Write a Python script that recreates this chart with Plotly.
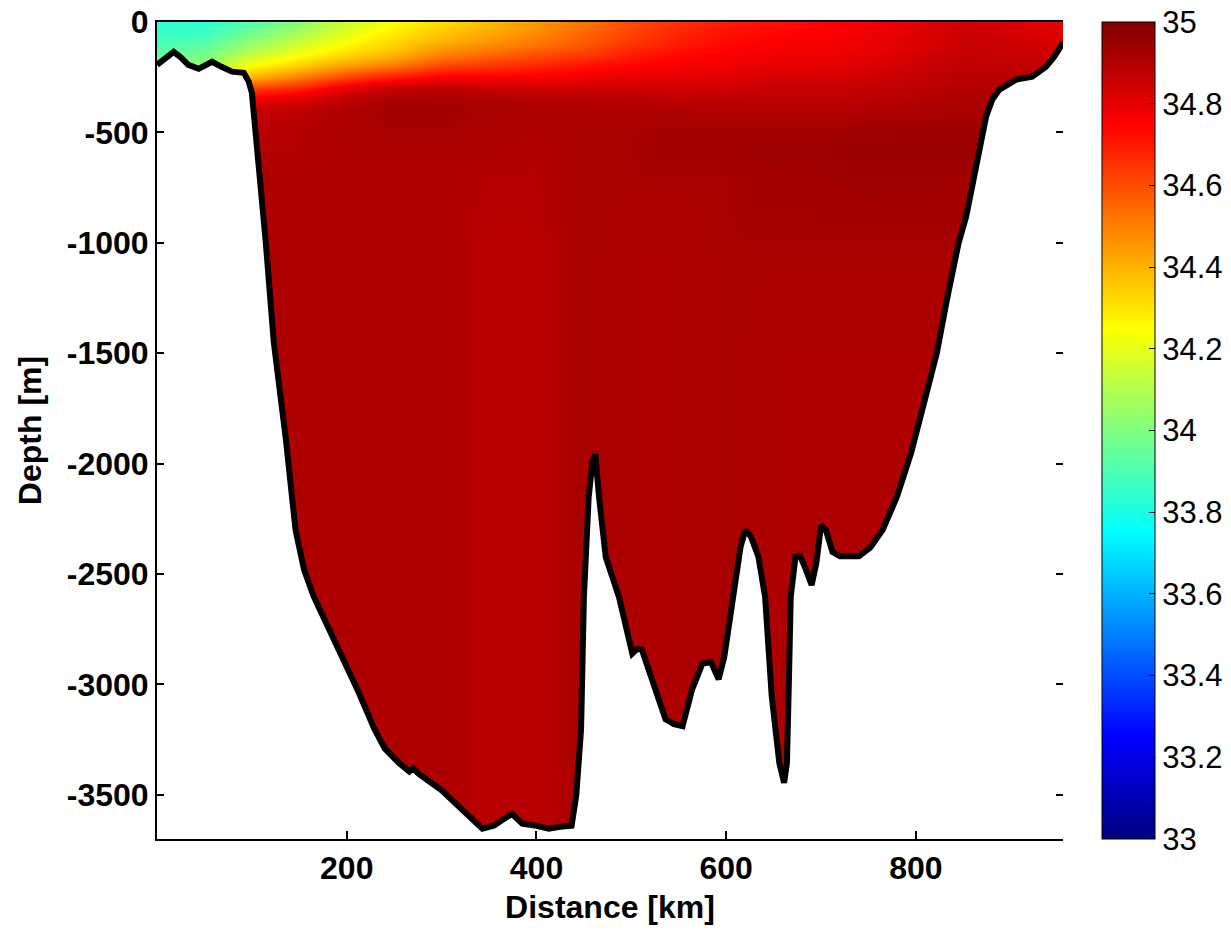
import plotly.graph_objects as go
import numpy as np

# ---------------- data ----------------
DIST_KM = [0, 50, 100, 150, 200, 250, 300, 350, 400, 450, 500, 550, 600, 650, 700, 750, 800, 850, 900, 955]
DEPTH_M = [0, -50, -100, -150, -200, -250, -300, -350, -400, -500, -600, -700, -1000, -1500, -2500, -3700]

SAL_0    = [33.83, 33.84, 33.92, 34.02, 34.15, 34.25, 34.32, 34.38, 34.45, 34.52, 34.60, 34.66, 34.70, 34.72, 34.74, 34.77, 34.80, 34.84, 34.82, 34.79]
SAL_50   = [33.86, 33.87, 33.97, 34.08, 34.20, 34.29, 34.36, 34.42, 34.48, 34.55, 34.62, 34.68, 34.72, 34.74, 34.76, 34.78, 34.81, 34.85, 34.84, 34.81]
SAL_100  = [33.90, 33.92, 34.05, 34.16, 34.26, 34.34, 34.42, 34.47, 34.52, 34.58, 34.65, 34.70, 34.74, 34.76, 34.77, 34.79, 34.82, 34.86, 34.85, 34.83]
SAL_150  = [33.95, 33.98, 34.14, 34.24, 34.33, 34.40, 34.50, 34.55, 34.60, 34.64, 34.70, 34.74, 34.76, 34.78, 34.78, 34.80, 34.83, 34.87, 34.86, 34.85]
SAL_200  = [34.00, 34.05, 34.26, 34.35, 34.45, 34.52, 34.62, 34.65, 34.68, 34.72, 34.75, 34.77, 34.78, 34.80, 34.80, 34.82, 34.85, 34.88, 34.87, 34.87]
SAL_250  = [34.05, 34.15, 34.40, 34.50, 34.62, 34.70, 34.76, 34.76, 34.76, 34.78, 34.80, 34.80, 34.81, 34.83, 34.83, 34.85, 34.87, 34.89, 34.89, 34.89]
SAL_300  = [34.15, 34.30, 34.62, 34.68, 34.80, 34.86, 34.88, 34.86, 34.84, 34.85, 34.85, 34.84, 34.85, 34.86, 34.86, 34.87, 34.88, 34.90, 34.90, 34.90]
SAL_350  = [34.30, 34.50, 34.78, 34.82, 34.88, 34.92, 34.92, 34.91, 34.90, 34.90, 34.89, 34.88, 34.88, 34.88, 34.88, 34.89, 34.90, 34.91, 34.91, 34.91]
SAL_400  = [34.60, 34.80, 34.86, 34.88, 34.91, 34.93, 34.93, 34.92, 34.91, 34.91, 34.91, 34.91, 34.90, 34.90, 34.90, 34.90, 34.91, 34.92, 34.92, 34.91]
SAL_500  = [34.88, 34.88, 34.89, 34.90, 34.91, 34.92, 34.92, 34.91, 34.91, 34.92, 34.92, 34.93, 34.93, 34.93, 34.93, 34.94, 34.94, 34.94, 34.93, 34.92]
SAL_600  = [34.90, 34.90, 34.90, 34.90, 34.91, 34.91, 34.91, 34.91, 34.90, 34.92, 34.92, 34.93, 34.93, 34.94, 34.94, 34.95, 34.95, 34.95, 34.93, 34.92]
SAL_700  = [34.91, 34.91, 34.91, 34.91, 34.91, 34.91, 34.91, 34.90, 34.90, 34.92, 34.92, 34.92, 34.92, 34.93, 34.93, 34.94, 34.94, 34.93, 34.92, 34.92]
SAL_1000 = [34.91, 34.91, 34.91, 34.91, 34.91, 34.91, 34.91, 34.89, 34.89, 34.92, 34.91, 34.91, 34.92, 34.92, 34.92, 34.92, 34.92, 34.92, 34.92, 34.92]
SAL_1500 = [34.91, 34.91, 34.91, 34.91, 34.91, 34.91, 34.91, 34.89, 34.89, 34.92, 34.91, 34.91, 34.92, 34.91, 34.91, 34.91, 34.91, 34.91, 34.91, 34.91]
SAL_2500 = [34.91, 34.91, 34.91, 34.91, 34.91, 34.91, 34.91, 34.89, 34.89, 34.92, 34.91, 34.91, 34.92, 34.91, 34.91, 34.91, 34.91, 34.91, 34.91, 34.91]
SAL_3700 = [34.91, 34.91, 34.91, 34.91, 34.91, 34.91, 34.91, 34.89, 34.89, 34.92, 34.91, 34.91, 34.92, 34.91, 34.91, 34.91, 34.91, 34.91, 34.91, 34.91]

BATHY_KM = [0, 8, 17.6, 25, 33, 44, 52, 58, 68, 79, 91.5, 96.7, 100, 103, 107, 114.6, 123, 136, 146, 155,
            165, 176, 197, 213, 229, 240, 255, 266, 270, 276, 300, 320, 343, 355, 365, 374, 380, 385,
            400, 413, 425, 437, 442, 447, 450, 455, 459, 462, 466, 473, 487, 501, 506, 511, 518, 526,
            536, 545, 554, 564, 575, 584, 592, 598, 606, 615, 620, 626, 634, 641, 648, 656, 661, 664,
            666, 668, 673, 678, 684, 690, 695, 700, 705, 712, 720, 740, 752, 765, 780, 795, 810, 822,
            833, 845, 853, 859, 866.7, 874, 880.5, 888, 905.7, 922.6, 937, 945.6, 955]
BATHY_DEPTH = [-194, -165, -135, -160, -194, -212, -195, -180, -203, -225, -230, -270, -320, -450, -667, -995,
               -1446, -1896, -2300, -2480, -2600, -2700, -2880, -3040, -3200, -3290, -3356, -3395, -3380,
               -3405, -3480, -3560, -3653, -3640, -3610, -3586, -3610, -3631, -3640, -3653, -3645, -3640,
               -3500, -3203, -2604, -2153, -1990, -1959, -2153, -2423, -2604, -2860, -2840, -2842, -2930,
               -3023, -3158, -3180, -3189, -3023, -2905, -2900, -2977, -2874, -2635, -2380, -2302, -2330,
               -2423, -2604, -3054, -3356, -3446, -3356, -3000, -2604, -2423, -2420, -2480, -2550, -2450,
               -2280, -2300, -2400, -2420, -2420, -2380, -2300, -2150, -1950, -1700, -1500, -1250, -1000,
               -880, -757, -577, -428, -351, -306, -261, -248, -203, -158, -95]

X_TICKS = [200, 400, 600, 800]
X_LABELS = ["200", "400", "600", "800"]
Y_TICKS = [0, -500, -1000, -1500, -2000, -2500, -3000, -3500]
Y_LABELS = ["0", "-500", "-1000", "-1500", "-2000", "-2500", "-3000", "-3500"]
CB_TICKS = [33, 33.2, 33.4, 33.6, 33.8, 34, 34.2, 34.4, 34.6, 34.8, 35]
CB_LABELS = ["33", "33.2", "33.4", "33.6", "33.8", "34", "34.2", "34.4", "34.6", "34.8", "35"]

X_RANGE = [0, 955]
Y_RANGE = [-3700, 0]
Z_RANGE = [33, 35]

# ---------------- figure ----------------
SAL = np.array([SAL_0, SAL_50, SAL_100, SAL_150, SAL_200, SAL_250, SAL_300, SAL_350, SAL_400,
                SAL_500, SAL_600, SAL_700, SAL_1000, SAL_1500, SAL_2500, SAL_3700])
depth_arr = np.array(DEPTH_M)[::-1]
sal_arr = SAL[::-1, :]

JET = [[0.0, "rgb(0,0,128)"], [0.125, "rgb(0,0,255)"], [0.375, "rgb(0,255,255)"],
       [0.625, "rgb(255,255,0)"], [0.875, "rgb(255,0,0)"], [1.0, "rgb(128,0,0)"]]

FONT = "Liberation Sans, Arial, Helvetica, sans-serif"

fig = go.Figure()
fig.add_trace(go.Heatmap(
    x=DIST_KM, y=depth_arr, z=sal_arr, zmin=Z_RANGE[0], zmax=Z_RANGE[1],
    colorscale=JET, zsmooth="best", hoverinfo="skip",
    colorbar=dict(
        x=1.043, xanchor="left", y=0.5, yanchor="middle", len=1.0, lenmode="fraction",
        thickness=53, thicknessmode="pixels", xpad=0, ypad=0,
        outlinewidth=1, outlinecolor="black",
        tickmode="array", tickvals=CB_TICKS, ticktext=CB_LABELS,
        ticks="inside", ticklen=6, tickwidth=1, tickcolor="black",
        tickfont=dict(family=FONT, size=31, color="black"),
    ),
))

# white sea-floor fill below bathymetry
fig.add_trace(go.Scatter(
    x=BATHY_KM + [BATHY_KM[-1], BATHY_KM[0]],
    y=BATHY_DEPTH + [Y_RANGE[0] - 100, Y_RANGE[0] - 100],
    mode="lines", fill="toself", fillcolor="white", line=dict(width=0, color="white"),
    hoverinfo="skip", showlegend=False,
))
# bathymetry line
fig.add_trace(go.Scatter(
    x=BATHY_KM, y=BATHY_DEPTH, mode="lines",
    line=dict(color="black", width=6), hoverinfo="skip", showlegend=False,
))
# invisible trace so the mirrored right-hand tick axis is drawn
fig.add_trace(go.Scatter(
    x=[BATHY_KM[0]], y=[BATHY_DEPTH[0]], yaxis="y2", mode="markers",
    marker=dict(opacity=0), hoverinfo="skip", showlegend=False,
))

fig.update_layout(
    width=1231, height=934,
    margin=dict(l=157, r=168, t=22, b=95, pad=0, autoexpand=False),
    paper_bgcolor="white", plot_bgcolor="white",
    showlegend=False,
    xaxis=dict(
        range=X_RANGE, tickmode="array", tickvals=X_TICKS, ticktext=X_LABELS,
        ticks="inside", ticklen=8, tickwidth=2, tickcolor="black",
        showline=True, linewidth=2, linecolor="black", mirror=True,
        showgrid=False, zeroline=False,
        tickfont=dict(family=FONT, size=32, color="black", weight="bold"),
        title=dict(text="Distance [km]", standoff=10,
                   font=dict(family=FONT, size=32, color="black", weight="bold")),
    ),
    yaxis=dict(
        range=Y_RANGE, tickmode="array", tickvals=Y_TICKS, ticktext=Y_LABELS,
        ticks="inside", ticklen=7, tickwidth=2, tickcolor="black",
        showline=True, linewidth=2, linecolor="black",
        showgrid=False, zeroline=False,
        tickfont=dict(family=FONT, size=32, color="black", weight="bold"),
        title=dict(text="Depth [m]", standoff=16,
                   font=dict(family=FONT, size=32, color="black", weight="bold")),
    ),
    yaxis2=dict(
        range=Y_RANGE, overlaying="y", side="right", tickmode="array", tickvals=Y_TICKS,
        ticks="inside", ticklen=7, tickwidth=2, tickcolor="black",
        showticklabels=False, showline=False, showgrid=False, zeroline=False,
    ),
)

fig.write_html("out.html")
